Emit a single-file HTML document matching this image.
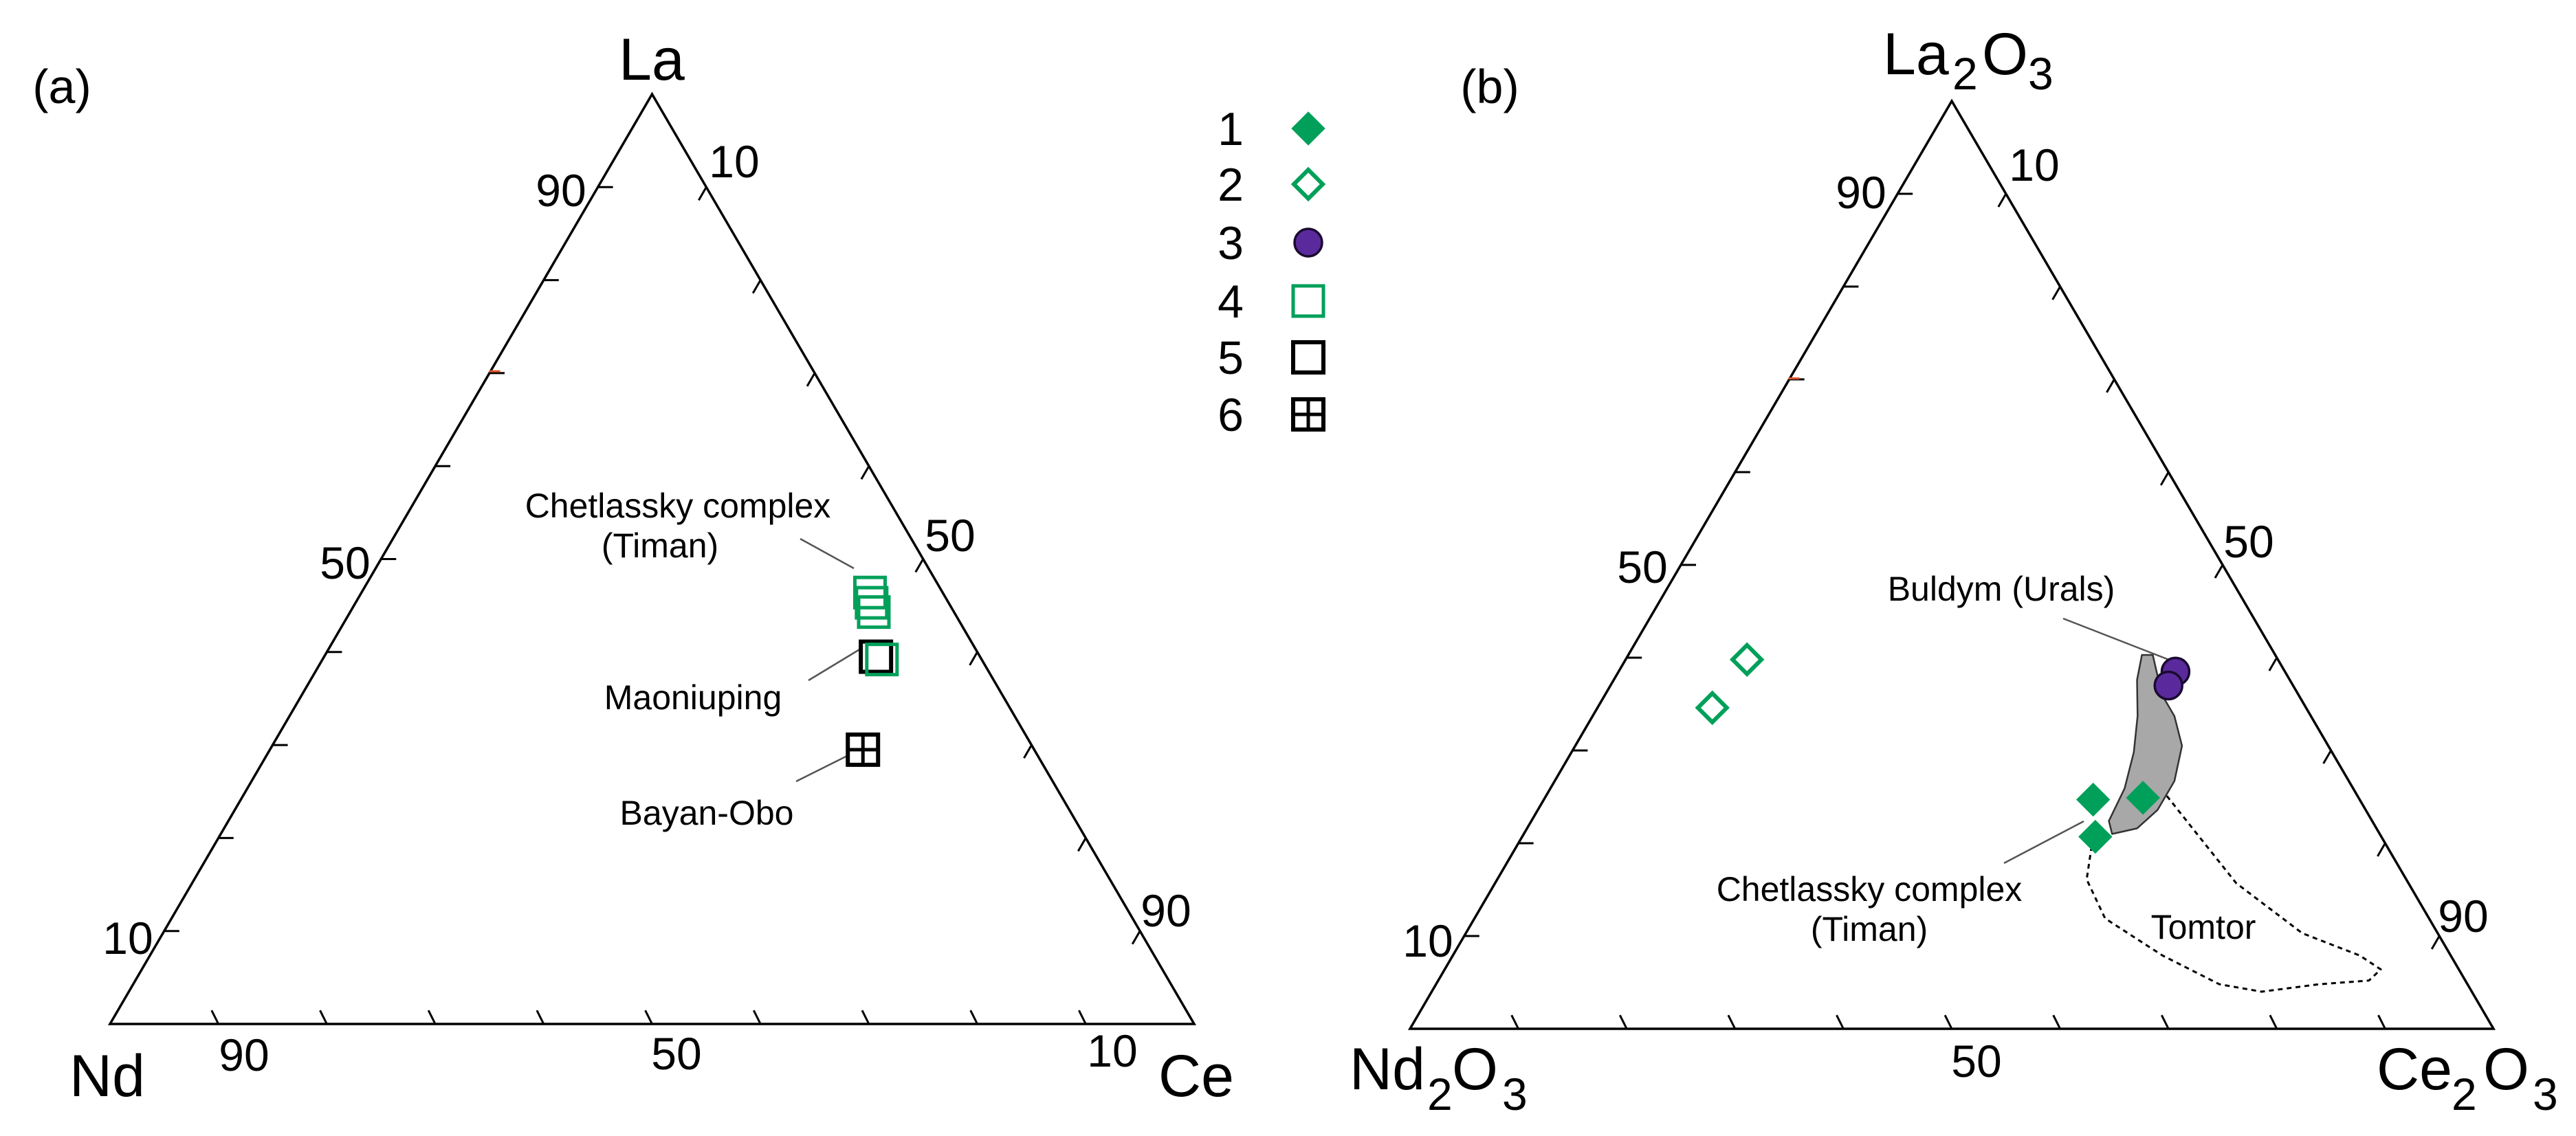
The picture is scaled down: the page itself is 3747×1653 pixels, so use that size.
<!DOCTYPE html>
<html><head><meta charset="utf-8"><style>
html,body{margin:0;padding:0;background:#fff;}
svg{display:block;font-family:"Liberation Sans",Arial,sans-serif;}
</style></head><body>
<svg id="fig" width="3747" height="1653" viewBox="0 0 3747 1653" xmlns="http://www.w3.org/2000/svg">
<rect width="3747" height="1653" fill="#fff"/>
<g id="pa"></g>
<g id="pb"></g>
<g id="legend"></g>
<g id="txt" fill="#000">
<text x="90" y="150" font-size="70" text-anchor="middle">(a)</text>
<text x="2167" y="150" font-size="70" text-anchor="middle">(b)</text>
<text x="948" y="116" font-size="86" text-anchor="middle">La</text>
<text x="156" y="1595" font-size="86" text-anchor="middle">Nd</text>
<text x="1740" y="1595" font-size="86" text-anchor="middle">Ce</text>
<g font-size="86">
<text x="2739" y="108">La</text><text x="2840" y="130" font-size="66">2</text><text x="2883" y="108">O</text><text x="2950" y="130" font-size="66">3</text></g>
<g font-size="86">
<text x="1963" y="1585">Nd</text><text x="2076" y="1615" font-size="66">2</text><text x="2112" y="1585">O</text><text x="2185" y="1615" font-size="66">3</text></g>
<g font-size="86">
<text x="3457" y="1585">Ce</text><text x="3566" y="1615" font-size="66">2</text><text x="3612" y="1585">O</text><text x="3684" y="1615" font-size="66">3</text></g>
<g font-size="66" text-anchor="middle">
<text x="816" y="300">90</text><text x="1068" y="258">10</text><text x="502" y="842">50</text><text x="186" y="1388">10</text>
<text x="1382" y="802">50</text><text x="1696" y="1348">90</text><text x="355" y="1558">90</text><text x="984" y="1556">50</text><text x="1618" y="1552">10</text>
<text x="2707" y="303">90</text><text x="2959" y="263">10</text><text x="2389" y="848">50</text><text x="2077" y="1392">10</text>
<text x="3271" y="811">50</text><text x="3583" y="1356">90</text><text x="2875" y="1567">50</text>
</g>
<g font-size="50" text-anchor="middle">
<text x="986" y="753">Chetlassky complex</text>
<text x="960" y="811">(Timan)</text>
<text x="1008" y="1032">Maoniuping</text>
<text x="1028" y="1200">Bayan-Obo</text>
<text x="2911" y="874">Buldym (Urals)</text>
<text x="2719" y="1311">Chetlassky complex</text>
<text x="2719" y="1369">(Timan)</text>
<text x="3205" y="1366">Tomtor</text>
</g>
</g>
</svg>
<script>
// Panel (a): La / Ce percentages (Nd = remainder)
const aGreenLa = [46.4, 45.3, 44.3, 39.2];
const aGreenCe = [46.9, 47.6, 48.3, 51.6];
const aBlackLa = [39.5];
const aBlackCe = [50.9];
const aCrossLa = [29.5];
const aCrossCe = [54.7];
// Panel (b)
const bFilledLa = [24.7, 24.9, 20.7];
const bFilledCe = [50.7, 55.2, 52.9];
const bOpenLa = [39.8, 34.6];
const bOpenCe = [11.2, 10.6];
const bCircLa = [38.5, 37.0];
const bCircCe = [51.4, 51.5];
const fieldLa = [40.3,40.3,36.0,33.7,30.5,26.7,23.6,21.6,21.0,22.4,25.9,29.8,33.7,37.6];
const fieldCe = [47.4,48.4,51.4,53.7,56.0,57.2,57.2,56.3,54.3,53.3,53.0,51.9,50.3,48.3];
const tomLa = [25.1,21.2,15.7,10.3,7.9,6.4,5.2,4.8,4.0,4.8,7.9,11.9,16.1,19.6];
const tomCe = [57.3,61.9,68.4,77.2,83.7,86.4,85.9,81.5,76.6,72.3,65.5,58.2,54.4,53.1];
const ticks = [10,20,30,40,50,60,70,80,90];
const legendLabels = ['1','2','3','4','5','6'];

const NS='http://www.w3.org/2000/svg';
const GREEN='#00a05a', PURPLE='#5a2a9c';
function mk(tag, attrs, parent){const e=document.createElementNS(NS,tag);for(const k in attrs)e.setAttribute(k,attrs[k]);parent.appendChild(e);return e;}
function tern(ox,oy,W,H){return (la,ce)=>[ox+(ce/100+la/200)*W, oy-la/100*H];}
const TA = tern(160,1490,1577,1353);
const TB = tern(2051,1497,1576,1350);

function drawFrame(g,T,redLa){
  const p=[T(100,0),T(0,0),T(0,100)];
  const tri=mk('polygon',{points:p.map(q=>q.join(',')).join(' '),fill:'none',stroke:'#000','stroke-width':3.5,'stroke-linejoin':'miter'},g);
  
  
  const L=22;
  ticks.forEach(t=>{
    // left edge: horizontal inward
    let a=T(t,0);
    let e=mk('line',{x1:a[0],y1:a[1],x2:a[0]+L,y2:a[1],stroke:'#000','stroke-width':3},g);
    
    
    // right edge: inward down-left
    let b=T(100-t,t);
    e=mk('line',{x1:b[0],y1:b[1],x2:b[0]-L*0.5,y2:b[1]+L*0.866,stroke:'#000','stroke-width':3},g);
    
    
    // bottom edge: up-left
    let c=T(0,t);
    e=mk('line',{x1:c[0],y1:c[1],x2:c[0]-L*0.45,y2:c[1]-L*0.9,stroke:'#000','stroke-width':3},g);
    
    
  });
  const r=T(redLa,0);
  const e=mk('line',{x1:r[0]-2,y1:r[1],x2:r[0]+14,y2:r[1],stroke:'#e0502a','stroke-width':3},g);
  
  
}
function square(g,x,y,col,sw,name){
  const s=44;
  const e=mk('rect',{x:x-s/2,y:y-s/2,width:s,height:s,fill:'none',stroke:col,'stroke-width':sw},g);
  
  
  return e;
}
function crossSq(g,x,y,name){
  square(g,x,y,'#000',6,name);
  mk('line',{x1:x,y1:y-22,x2:x,y2:y+22,stroke:'#000','stroke-width':5},g);
  mk('line',{x1:x-22,y1:y,x2:x+22,y2:y,stroke:'#000','stroke-width':5},g);
}
function diamond(g,x,y,filled,name){
  const h=filled?24:21;
  const e=mk('polygon',{points:`${x},${y-h} ${x+h},${y} ${x},${y+h} ${x-h},${y}`,fill:filled?GREEN:'#fff',stroke:GREEN,'stroke-width':filled?1:6},g);
  
  
}
function circle(g,x,y,name){
  const e=mk('circle',{cx:x,cy:y,r:20,fill:PURPLE,stroke:'#1a0a30','stroke-width':3.5},g);
  
  
}
function leader(g,x1,y1,x2,y2){
  const e=mk('line',{x1,y1,x2,y2,stroke:'#555','stroke-width':2.5},g);
  
  
}

// Panel a
const ga=document.getElementById('pa');
drawFrame(ga,TA,70.2);
leader(ga,1164,784,1242,827);
leader(ga,1176,990,1252,944);
leader(ga,1158,1137,1232,1100);
aGreenLa.slice(0,3).forEach((la,i)=>{const p=TA(la,aGreenCe[i]);square(ga,p[0],p[1],GREEN,5,'chetlassky-square');});
aBlackLa.forEach((la,i)=>{const p=TA(la,aBlackCe[i]);square(ga,p[0],p[1],'#000',6,'maoniuping-square');});
{const p=TA(aGreenLa[3],aGreenCe[3]);square(ga,p[0],p[1],GREEN,5,'maoniuping-green-square');}
aCrossLa.forEach((la,i)=>{const p=TA(la,aCrossCe[i]);crossSq(ga,p[0],p[1],'bayan-obo-square');});

// Panel b
const gb=document.getElementById('pb');
drawFrame(gb,TB,70.1);
const fp=fieldLa.map((la,i)=>TB(la,fieldCe[i]));
let d='M'+fp.map(q=>q.join(',')).join(' L')+'Z';
let e=mk('path',{d,fill:'#a8a8a8',stroke:'#333','stroke-width':2.5,'stroke-linejoin':'round'},gb);


const tp=tomLa.map((la,i)=>TB(la,tomCe[i]));
d='M'+tp.map(q=>q.join(',')).join(' L');
e=mk('path',{d,fill:'none',stroke:'#000','stroke-width':3,'stroke-dasharray':'7,6','stroke-linejoin':'round'},gb);


leader(gb,3001,900,3160,962);
leader(gb,2915,1256,3031,1195);
bOpenLa.forEach((la,i)=>{const p=TB(la,bOpenCe[i]);diamond(gb,p[0],p[1],false,'open-diamond');});
bFilledLa.forEach((la,i)=>{const p=TB(la,bFilledCe[i]);diamond(gb,p[0],p[1],true,'filled-diamond');});
bCircLa.forEach((la,i)=>{const p=TB(la,bCircCe[i]);circle(gb,p[0],p[1],'buldym-circle');});

// Legend
const gl=document.getElementById('legend');
const ly=[187,268,353,438,520,603];
legendLabels.forEach((t,i)=>{
  const tx=mk('text',{x:1790,y:ly[i]+24,'font-size':68,'text-anchor':'middle'},gl);
  tx.textContent=t;
  
  
  const x=1903,y=ly[i];
  if(i===0)diamond(gl,x,y,true,'legend-marker-1');
  if(i===1)diamond(gl,x,y,false,'legend-marker-2');
  if(i===2)circle(gl,x,y,'legend-marker-3');
  if(i===3)square(gl,x,y,GREEN,5,'legend-marker-4');
  if(i===4)square(gl,x,y,'#000',6,'legend-marker-5');
  if(i===5)crossSq(gl,x,y,'legend-marker-6');
});
</script>
</body></html>
